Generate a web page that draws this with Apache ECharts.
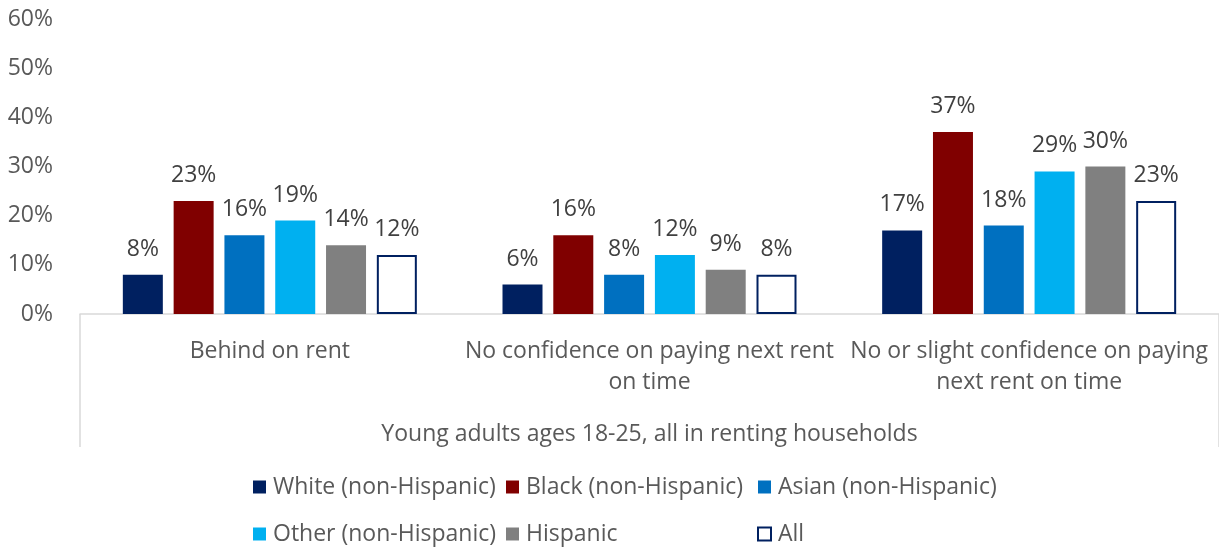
<!DOCTYPE html>
<html>
<head>
<meta charset="utf-8">
<script src="https://cdn.jsdelivr.net/npm/echarts@6/dist/echarts.min.js"></script>
<style>
  html, body { margin: 0; padding: 0; background: #ffffff; }
  #chart { width: 1219px; height: 548px; }
</style>
</head>
<body>
<div id="chart"></div>
<script>
// Rent hardship among young adults (18-25) in renting households, by race/ethnicity
const categories = [
  'Behind on rent',
  'No confidence on paying next rent\non time',
  'No or slight confidence on paying\nnext rent on time'
];
const groupLabel = 'Young adults ages 18-25, all in renting households';
const yTicks = [0, 10, 20, 30, 40, 50, 60];

const seriesNames = [
  'White (non-Hispanic)',
  'Black (non-Hispanic)',
  'Asian (non-Hispanic)',
  'Other (non-Hispanic)',
  'Hispanic',
  'All'
];
const white = [8, 6, 17];
const black = [23, 16, 37];
const asian = [16, 8, 18];
const other = [19, 12, 29];
const hispanic = [14, 9, 30];
const all = [12, 8, 23];

const FONT = '"Open Sans", "Noto Sans", sans-serif';
const FS = 23;

const styles = [
  { color: '#002060' },
  { color: '#800000' },
  { color: '#0070C0' },
  { color: '#00B0F0' },
  { color: '#808080' },
  { color: '#ffffff', borderColor: '#002060', borderWidth: 2 }
];
const values = [white, black, asian, other, hispanic, all];

const series = seriesNames.map((name, i) => ({
  name: name,
  type: 'bar',
  xAxisIndex: 0,
  data: values[i],
  barWidth: 40,
  barGap: '27%',
  itemStyle: styles[i],
  label: {
    show: true,
    position: 'top',
    distance: 14,
    formatter: p => p.value + '%',
    color: '#404040',
    fontSize: FS,
    fontFamily: FONT
  }
}));

// legend laid out as a 3-column grid: one vertical legend per column
const legendText = { color: '#595959', fontSize: FS, fontFamily: FONT, lineHeight: 24, padding: [0, 0, 0, 2] };
function legendColumn(left, names) {
  return {
    orient: 'vertical',
    left: left,
    top: 475,
    padding: 0,
    itemWidth: 13,
    itemHeight: 13,
    itemGap: 23,
    icon: 'rect',
    selectedMode: false,
    textStyle: legendText,
    data: names
  };
}

const chart = echarts.init(document.getElementById('chart'));
chart.setOption({
  animation: false,
  grid: { left: 80, right: 0, top: 19, bottom: 234, containLabel: false },
  legend: [
    legendColumn(253, [seriesNames[0], seriesNames[3]]),
    legendColumn(506, [seriesNames[1], seriesNames[4]]),
    legendColumn(757, [seriesNames[2], seriesNames[5]])
  ],
  xAxis: [
    {
      type: 'category',
      data: categories,
      axisLine: { show: true, lineStyle: { color: '#d9d9d9', width: 1.5 } },
      axisTick: { show: false },
      axisLabel: {
        color: '#595959', fontSize: FS, fontFamily: FONT,
        lineHeight: 31, margin: 22, interval: 0
      }
    },
    {
      type: 'category',
      data: [groupLabel],
      position: 'bottom',
      axisLine: { show: false },
      axisTick: { show: true, length: 133, lineStyle: { color: '#d9d9d9', width: 1.5 } },
      axisLabel: {
        color: '#595959', fontSize: FS, fontFamily: FONT,
        lineHeight: 31, margin: 105
      }
    }
  ],
  yAxis: {
    type: 'value',
    min: yTicks[0],
    max: yTicks[yTicks.length - 1],
    interval: 10,
    axisLine: { show: false },
    axisTick: { show: false },
    splitLine: { show: false },
    axisLabel: {
      formatter: v => v + '%',
      color: '#595959', fontSize: FS, fontFamily: FONT, margin: 27
    }
  },
  series: series
});
</script>
</body>
</html>
